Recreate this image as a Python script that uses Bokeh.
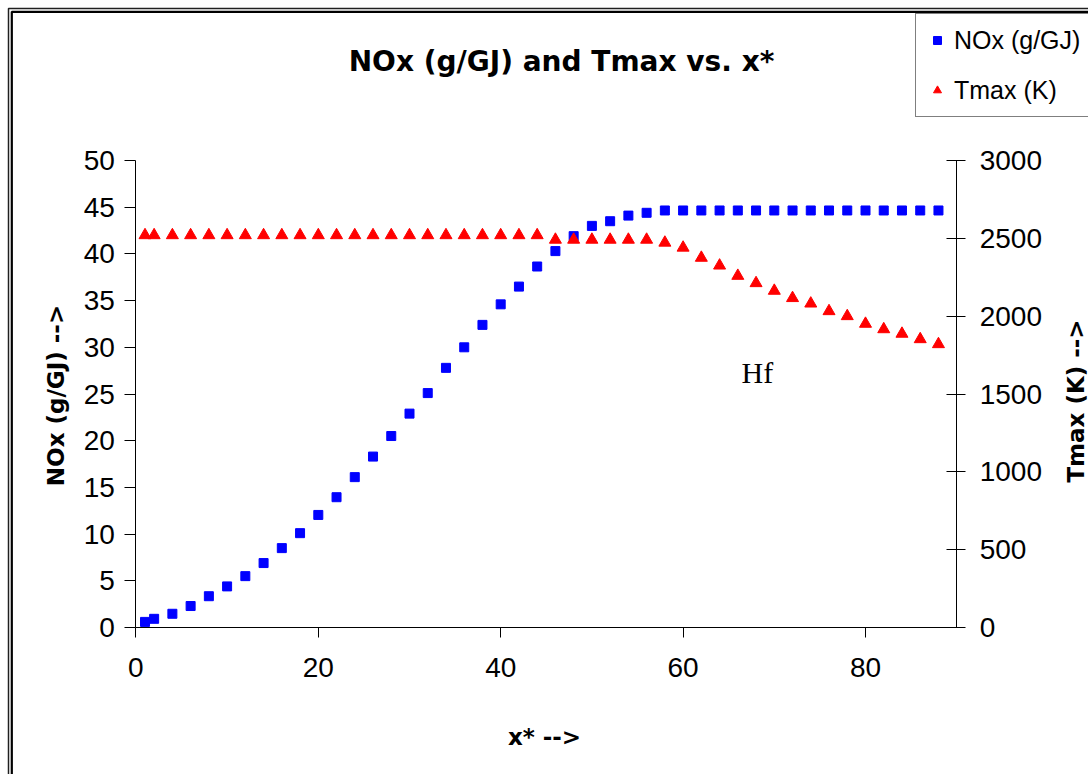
import math
from bokeh.plotting import figure
from bokeh.models import (Range1d, LinearAxis, Label, BoxAnnotation, Legend,
                          LegendItem, FixedTicker)
from bokeh.embed import file_html
from bokeh.resources import INLINE

# ---- data ----
x_star = [1, 2, 4, 6, 8, 10, 12, 14, 16, 18, 20, 22, 24, 26, 28, 30, 32, 34, 36, 38,
          40, 42, 44, 46, 48, 50, 52, 54, 56, 58, 60, 62, 64, 66, 68, 70, 72, 74, 76,
          78, 80, 82, 84, 86, 88]
nox = [0.6, 0.93, 1.47, 2.3, 3.35, 4.4, 5.5, 6.9, 8.5, 10.1, 12.05, 13.95, 16.1, 18.3,
       20.5, 22.9, 25.1, 27.8, 30.0, 32.4, 34.6, 36.5, 38.65, 40.3, 41.9, 43.0, 43.5,
       44.1, 44.4, 44.65, 44.65, 44.65, 44.65, 44.65, 44.65, 44.65, 44.65, 44.65,
       44.65, 44.65, 44.65, 44.65, 44.65, 44.65, 44.65]
tmax = [2520, 2520, 2520, 2520, 2520, 2520, 2520, 2520, 2520, 2520, 2520, 2520, 2520,
        2520, 2520, 2520, 2520, 2520, 2520, 2520, 2520, 2520, 2520, 2491, 2491, 2491,
        2491, 2491, 2491, 2472, 2440, 2375, 2325, 2259, 2212, 2163, 2116, 2081, 2032,
        2000, 1951, 1916, 1887, 1852, 1820]

x_ticks = [0, 20, 40, 60, 80]
nox_ticks = [0, 5, 10, 15, 20, 25, 30, 35, 40, 45, 50]
t_ticks = [0, 500, 1000, 1500, 2000, 2500, 3000]

title_text = "NOx (g/GJ) and Tmax vs. x*"
x_label = "x* -->"
y_label = "NOx (g/GJ) -->"
y2_label = "Tmax (K) -->"
note_text = "Hf"
legend_labels = ["NOx (g/GJ)", "Tmax (K)"]

# ---- layout: the frame fills the canvas, axes are pinned at the data limits ----
W, H = 1088, 774
X0_PX, PX_PER_X = 135.4, 9.12          # pixel of x*=0, pixels per x* unit
Y0_PX, PX_PER_Y = 627.0, 9.34          # pixel of NOx=0, pixels per NOx unit
T_PER_NOX = 3000 / 50

xr = Range1d(-X0_PX / PX_PER_X, (W - X0_PX) / PX_PER_X)
yr = Range1d(-(H - Y0_PX) / PX_PER_Y, Y0_PX / PX_PER_Y)
tr = Range1d(yr.start * T_PER_NOX, yr.end * T_PER_NOX)

p = figure(width=W, height=H, output_backend="svg", toolbar_location=None,
           x_range=xr, y_range=yr, x_axis_location=None, y_axis_location=None,
           min_border=0, min_border_left=0, min_border_right=0,
           min_border_top=0, min_border_bottom=0)
p.xgrid.visible = False
p.ygrid.visible = False
p.outline_line_color = None
p.background_fill_color = "white"
p.border_fill_color = "white"
p.extra_y_ranges = {"T": tr}

x_axis = LinearAxis(fixed_location=0, bounds=(0, 90), ticker=FixedTicker(ticks=x_ticks))
y_axis = LinearAxis(fixed_location=0, bounds=(0, 50), ticker=FixedTicker(ticks=nox_ticks))
t_axis = LinearAxis(fixed_location=90, bounds=(0, 3000), y_range_name="T",
                    ticker=FixedTicker(ticks=t_ticks))
p.add_layout(x_axis, "below")
p.add_layout(y_axis, "left")
p.add_layout(t_axis, "right")

for ax in [x_axis, y_axis, t_axis]:
    ax.axis_line_color = "black"
    ax.axis_line_width = 1
    ax.major_tick_line_color = "black"
    ax.minor_tick_line_color = None
    ax.major_label_text_font = "Liberation Sans"
    ax.major_label_text_font_size = "28px"
    ax.major_label_text_color = "black"

x_axis.major_tick_in = 0
x_axis.major_tick_out = 10
x_axis.major_label_standoff = 20
y_axis.major_tick_in = 0
y_axis.major_tick_out = 11
y_axis.major_label_standoff = 10
t_axis.major_tick_in = 10
t_axis.major_tick_out = 9
t_axis.major_label_standoff = 14

r1 = p.scatter(x_star, nox, marker="square", size=9, color="#0000FF")
r2 = p.scatter(x_star, tmax, marker="triangle", size=12, color="#FF0000",
               y_range_name="T")

legend = Legend(items=[LegendItem(label=legend_labels[0], renderers=[r1]),
                       LegendItem(label=legend_labels[1], renderers=[r2])],
                location=(915, H - 117), orientation="vertical",
                border_line_color="black", border_line_width=1,
                background_fill_color="white", background_fill_alpha=1,
                label_text_font="Liberation Sans", label_text_font_size="25px",
                label_text_color="black",
                glyph_width=20, glyph_height=30, spacing=20, padding=11,
                margin=0, label_standoff=7)
p.add_layout(legend)


def px_x(px):
    return (px - X0_PX) / PX_PER_X


def px_y(py):
    return (Y0_PX - py) / PX_PER_Y


# outer double border of the chart area
p.add_layout(BoxAnnotation(left=px_x(8.0), right=px_x(W + 40), top=px_y(8.0),
                           bottom=px_y(H + 40), fill_color=None, fill_alpha=0,
                           line_color="#202020", line_alpha=1, line_width=1.5,
                           level="underlay"))
p.add_layout(BoxAnnotation(left=px_x(11.3), right=px_x(W + 40), top=px_y(11.3),
                           bottom=px_y(H + 40), fill_color=None, fill_alpha=0,
                           line_color="black", line_alpha=1, line_width=2.2,
                           level="underlay"))

p.add_layout(Label(x=px_x(561), y=px_y(61), text=title_text, text_align="center",
                   text_baseline="alphabetic", text_font="DejaVu Sans",
                   text_font_style="bold", text_font_size="28px", text_color="black"))
p.add_layout(Label(x=px_x(544), y=px_y(736), text=x_label, text_align="center",
                   text_baseline="alphabetic", text_font="DejaVu Sans",
                   text_font_style="bold", text_font_size="23px", text_color="black"))
p.add_layout(Label(x=px_x(55), y=px_y(395), text=y_label, text_align="center",
                   text_baseline="alphabetic", angle=math.pi / 2,
                   text_font="DejaVu Sans", text_font_style="bold",
                   text_font_size="23px", text_color="black"))
p.add_layout(Label(x=px_x(1075), y=px_y(400.5), text=y2_label, text_align="center",
                   text_baseline="alphabetic", angle=math.pi / 2,
                   text_font="DejaVu Sans", text_font_style="bold",
                   text_font_size="23px", text_color="black"))
p.add_layout(Label(x=66.4, y=27.3, text=note_text, text_align="left",
                   text_baseline="alphabetic", text_font="Liberation Serif",
                   text_font_size="30px", text_color="black"))

open("out.html", "w").write(file_html(p, INLINE))
